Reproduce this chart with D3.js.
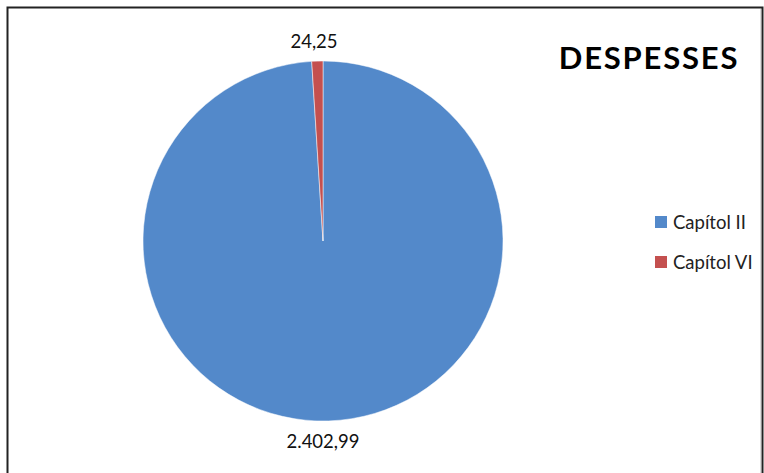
<!DOCTYPE html>
<html><head><meta charset="utf-8">
<script src="https://cdn.jsdelivr.net/npm/d3@7"></script>
<style>body{margin:0;background:#fff}svg{display:block}</style>
</head><body>
<svg id="c" width="764" height="473"></svg>
<script>
const categories = ["Capítol II", "Capítol VI"];
const values = [2402.99, 24.25];
const valueLabels = ["2.402,99", "24,25"];
const colors = ["#5389CA", "#C4504F"];
const title = "DESPESSES";

const svg = d3.select("#c");
const font = "Lato, 'Open Sans', sans-serif";
// frame
svg.append("rect").attr("x", 7.5).attr("y", 7.5).attr("width", 755).attr("height", 470)
  .attr("fill", "#fff").attr("stroke", "#222").attr("stroke-width", 2);
svg.append("line").attr("x1", 760.5).attr("x2", 760.5).attr("y1", 9).attr("y2", 473).attr("stroke", "#ddd");

const cx = 323, cy = 241, r = 180;
const pie = d3.pie().sort(null).value(d => d)(values);
const arc = d3.arc().innerRadius(0).outerRadius(r);
const g = svg.append("g").attr("transform", `translate(${cx},${cy})`);
g.selectAll("path").data(pie).join("path")
  .attr("d", arc).attr("fill", (d, i) => colors[i]).attr("stroke", "#fff").attr("stroke-width", 0.5);

// value labels
const labelPos = [[0, 207], [-9, -193]];
g.selectAll("text.v").data(pie).join("text").attr("class", "v")
  .attr("x", (d, i) => labelPos[i][0]).attr("y", (d, i) => labelPos[i][1])
  .attr("text-anchor", "middle").attr("font-family", font).attr("font-size", 18.5).attr("fill", "#111")
  .text((d, i) => valueLabels[i]);

svg.append("text").attr("x", 649).attr("y", 69).attr("text-anchor", "middle")
  .attr("font-family", font).attr("font-weight", "bold").attr("font-size", 31)
  .attr("letter-spacing", 1.8).attr("fill", "#000").text(title);

const lg = svg.append("g");
categories.forEach((c, i) => {
  const y = 222 + i * 40;
  lg.append("rect").attr("x", 655).attr("y", y - 6).attr("width", 12).attr("height", 12).attr("fill", colors[i]);
  lg.append("text").attr("x", 673).attr("y", y + 6.5).attr("font-family", font).attr("font-size", 18.5).attr("fill", "#222").text(c);
});
</script>
</body></html>
